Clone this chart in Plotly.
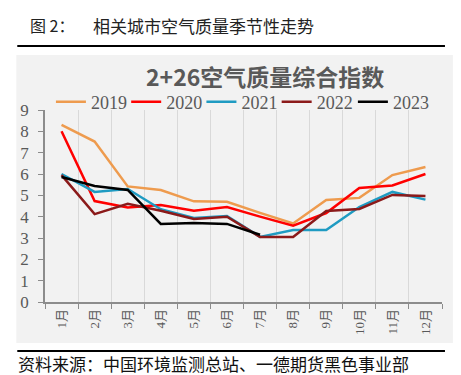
import plotly.graph_objects as go

months = ["1月", "2月", "3月", "4月", "5月", "6月", "7月", "8月", "9月", "10月", "11月", "12月"]
v2019 = [8.3, 7.52, 5.42, 5.25, 4.72, 4.7, 4.18, 3.68, 4.78, 4.88, 5.95, 6.33]
v2020 = [8.0, 4.73, 4.43, 4.55, 4.28, 4.45, 4.0, 3.58, 4.17, 5.34, 5.46, 6.0]
v2021 = [6.0, 5.16, 5.3, 4.35, 3.94, 4.03, 3.05, 3.37, 3.37, 4.45, 5.16, 4.8]
v2022 = [5.95, 4.12, 4.6, 4.28, 3.89, 4.0, 3.05, 3.05, 4.27, 4.36, 5.02, 4.97]
v2023 = [5.86, 5.44, 5.25, 3.66, 3.7, 3.66, 3.15]

series = [
    ("2019", v2019, "#EE9B4E"),
    ("2020", v2020, "#FF0000"),
    ("2021", v2021, "#1F9BC2"),
    ("2022", v2022, "#8B1A1A"),
    ("2023", v2023, "#000000"),
]

W, H = 461, 375
L, R, T, B = 33, 434, 102, 294


def px(x):
    return (x - L) / (R - L)


def py(y):
    return (B - y) / (B - T)


serif = "Liberation Serif, Noto Sans CJK SC, serif"
grey = "#595959"

legend_x = [39, 115, 191, 267, 344]

fig = go.Figure()
legends = {}
for i, (name, vals, color) in enumerate(series):
    key = "legend" if i == 0 else f"legend{i + 1}"
    fig.add_trace(go.Scatter(
        x=months[:len(vals)], y=vals, name=name, mode="lines",
        line=dict(color=color, width=2.5), legend=key,
    ))
    legends[key] = dict(
        orientation="h", x=px(legend_x[i]), xanchor="left", y=py(94), yanchor="middle",
        font=dict(family=serif, size=18, color=grey),
        bgcolor="rgba(0,0,0,0)", tracegroupgap=0,
    )

fig.update_layout(
    width=W, height=H,
    margin=dict(l=L, r=W - R, t=T, b=H - B),
    paper_bgcolor="white",
    plot_bgcolor="#F2F2F2",
    showlegend=True,
    xaxis=dict(
        type="category", categoryorder="array", categoryarray=months,
        range=[-0.5, 11.5], tickson="boundaries",
        showgrid=True, gridcolor="#D9D9D9", gridwidth=1,
        showline=True, linecolor="#8C8C8C", linewidth=1.5,
        ticks="outside", ticklen=5, tickcolor="#8C8C8C",
        tickangle=-90,
        tickfont=dict(family=serif, size=13, color=grey),
        fixedrange=True,
    ),
    yaxis=dict(
        range=[0, 9], dtick=1, showgrid=False, zeroline=False,
        showline=True, linecolor="#8C8C8C", linewidth=1.5,
        ticks="outside", ticklen=5, tickcolor="#8C8C8C",
        ticklabelstandoff=6,
        tickfont=dict(family=serif, size=17, color=grey),
        fixedrange=True,
    ),
    shapes=[
        dict(type="rect", xref="paper", yref="paper", layer="below",
             x0=px(4), x1=px(445), y0=py(335), y1=py(47),
             fillcolor="#F2F2F2", line=dict(width=0)),
        dict(type="line", xref="paper", yref="paper",
             x0=px(5), x1=px(437), y0=py(38), y1=py(38),
             line=dict(color="black", width=2)),
        dict(type="line", xref="paper", yref="paper",
             x0=px(5), x1=px(437), y0=py(343), y1=py(343),
             line=dict(color="black", width=2)),
    ],
    annotations=[
        dict(text="<b>2+26空气质量综合指数</b>", xref="paper", yref="paper",
             x=px(255), y=py(68), xanchor="center", yanchor="middle", showarrow=False,
             font=dict(family="Noto Sans CJK SC", size=23, color=grey)),
        dict(text="图 2：", xref="paper", yref="paper",
             x=px(16), y=py(17), xanchor="left", yanchor="middle", showarrow=False,
             font=dict(family="Noto Sans CJK SC", size=16, color="#222222")),
        dict(text="相关城市空气质量季节性走势", xref="paper", yref="paper",
             x=px(79), y=py(17), xanchor="left", yanchor="middle", showarrow=False,
             font=dict(family="Noto Sans CJK SC", size=17, color="#222222")),
        dict(text="资料来源：中国环境监测总站、一德期货黑色事业部", xref="paper", yref="paper",
             x=px(4), y=py(355), xanchor="left", yanchor="middle", showarrow=False,
             font=dict(family="Noto Sans CJK SC", size=17, color="#111111")),
    ],
    **legends,
)

fig.write_html("out.html")
